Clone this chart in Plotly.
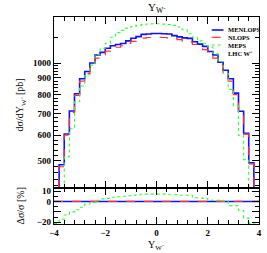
import numpy as np
import plotly.graph_objects as go

# ---- data ----
bin_edges = [round(-4.0 + 0.2 * i, 1) for i in range(41)]

menlops = [380, 487, 605, 712, 805, 895, 942, 1000, 1058, 1078, 1110, 1130, 1140, 1148, 1170, 1192, 1205, 1225, 1228, 1232,
           1232, 1230, 1228, 1214, 1203, 1195, 1191, 1163, 1143, 1125, 1085, 1058, 1005, 950, 895, 808, 711, 608, 494, 380]
nlops = [375, 480, 600, 705, 795, 880, 930, 985, 1035, 1060, 1088, 1100, 1118, 1130, 1150, 1165, 1180, 1192, 1198, 1200,
         1200, 1198, 1195, 1188, 1180, 1170, 1160, 1140, 1120, 1100, 1070, 1035, 985, 935, 880, 800, 705, 605, 490, 378]
meps = [300, 395, 515, 628, 760, 850, 920, 985, 1060, 1110, 1150, 1200, 1240, 1260, 1280, 1295, 1305, 1312, 1318, 1320,
        1320, 1317, 1312, 1305, 1290, 1265, 1230, 1200, 1170, 1150, 1120, 1070, 1010, 930, 830, 740, 600, 505, 395, 300]

ratio_menlops = [0.0] * 40
ratio_nlops = [0.0] * 40
ratio_meps = [-21, -17, -13, -10, -8, -5.5, -2.5, -1, 1, 2.5, 3, 4, 4.5, 5, 5.5, 6, 6.5, 7, 7, 7,
              7, 7, 6.5, 6.5, 6, 6, 6, 3.5, 3.3, 3, 1, 1, 1, 0.5, -4, -4, -8.7, -16, -21, -22]

x_tickvals = [-4, -2, 0, 2, 4]
y_tickvals = [500, 600, 700, 800, 900, 1000]
y_minor = [v for v in range(420, 1000, 20) if v % 100 != 0] + [1200]
r_tickvals = [-20, -10, 0, 10]
r_ticktext = ["\u221220", "", "0", "10"]

series = [
    ("MENLOPS", menlops, ratio_menlops, dict(color="#1010ff", width=1.6, dash="solid")),
    ("NLOPS", nlops, ratio_nlops, dict(color="#ff3030", width=1.2, dash="dash")),
    ("MEPS", meps, ratio_meps, dict(color="#30ff30", width=1.1, dash="dot")),
]


def steps(vals):
    return bin_edges, list(vals) + [vals[-1]]


fig = go.Figure()
for name, vals, rvals, line in series:
    xs, ys = steps(vals)
    fig.add_trace(go.Scatter(x=xs, y=ys, mode="lines", line=dict(shape="hv", **line),
                             xaxis="x", yaxis="y", showlegend=False, name=name))
    xs, ys = steps(rvals)
    fig.add_trace(go.Scatter(x=xs, y=ys, mode="lines", line=dict(shape="hv", **line),
                             xaxis="x2", yaxis="y2", showlegend=False, name=name))

FONT = "Liberation Serif"
W, H = 267, 253
L, R, T, B = 54, 5, 17, 29
ph = H - T - B
pw = W - L - R
split = (224 - 188) / ph

axis_common = dict(showline=True, linecolor="black", linewidth=1.4, mirror="allticks",
                   ticks="inside", tickcolor="black", zeroline=False, showgrid=False,
                   tickfont=dict(family=FONT, size=9, color="black", weight="bold"))

fig.update_layout(
    width=W, height=H,
    margin=dict(l=L, r=R, t=T, b=B),
    paper_bgcolor="white", plot_bgcolor="white",
    showlegend=False,
    xaxis=dict(domain=[0, 1], anchor="y", range=[-4, 4], tickvals=x_tickvals, showticklabels=False,
               ticklen=7, minor=dict(dtick=0.4, tick0=0, ticklen=3.5, ticks="inside", tickcolor="black"),
               **axis_common),
    yaxis=dict(domain=[split, 1], anchor="x", type="log", range=[np.log10(413), np.log10(1385)],
               tickvals=y_tickvals, ticktext=[str(v) for v in y_tickvals], ticklen=7,
               minor=dict(tickvals=y_minor, ticklen=3.5, ticks="inside", tickcolor="black"),
               **axis_common),
    xaxis2=dict(domain=[0, 1], anchor="y2", range=[-4, 4], tickvals=x_tickvals,
                ticklen=7, minor=dict(dtick=0.4, tick0=0, ticklen=3.5, ticks="inside", tickcolor="black"),
                **axis_common),
    yaxis2=dict(domain=[0, split], anchor="x2", range=[-21.6, 12.9], tickvals=r_tickvals, ticktext=r_ticktext,
                ticklen=7, minor=dict(dtick=5, ticklen=3.5, ticks="inside", tickcolor="black"),
                **axis_common),
)


def px_x(p):
    return (p - L) / pw


def px_y(p):
    return (H - B - p) / ph


ann = []
ann.append(dict(text="Y<sub>W\u207b</sub>", x=px_x(158), y=px_y(8), font=dict(family=FONT, size=11)))
ann.append(dict(text="Y<sub>W\u207b</sub>", x=px_x(158), y=px_y(245), font=dict(family=FONT, size=10)))
ann.append(dict(text="d\u03c3/dY<sub>W\u207b</sub> [pb]", x=px_x(20), y=px_y(105), textangle=-90,
                font=dict(family=FONT, size=10)))
ann.append(dict(text="\u0394\u03c3/\u03c3 [%]", x=px_x(20), y=px_y(206), textangle=-90,
                font=dict(family=FONT, size=10)))

legend_rows = [("MENLOPS", 30, series[0][3]), ("NLOPS", 37.3, series[1][3]),
               ("MEPS", 45, series[2][3]), ("LHC W\u207b", 53, None)]
shapes = []
for label, py, line in legend_rows:
    if line is not None:
        shapes.append(dict(type="line", xref="paper", yref="paper", x0=px_x(214), x1=px_x(226),
                           y0=px_y(py), y1=px_y(py), line=line))
    ann.append(dict(text="<b>%s</b>" % label, x=px_x(229), y=px_y(py), xanchor="left",
                    font=dict(family=FONT, size=6.5)))

for a in ann:
    a.setdefault("xref", "paper")
    a.setdefault("yref", "paper")
    a.setdefault("showarrow", False)
    a.setdefault("xanchor", "center")
    a.setdefault("yanchor", "middle")
    a["font"].setdefault("color", "black")

fig.update_layout(annotations=ann, shapes=shapes)
fig.write_html("out.html", config={"displayModeBar": False},
               post_script="document.body.style.margin='0';document.body.style.overflow='hidden';")
